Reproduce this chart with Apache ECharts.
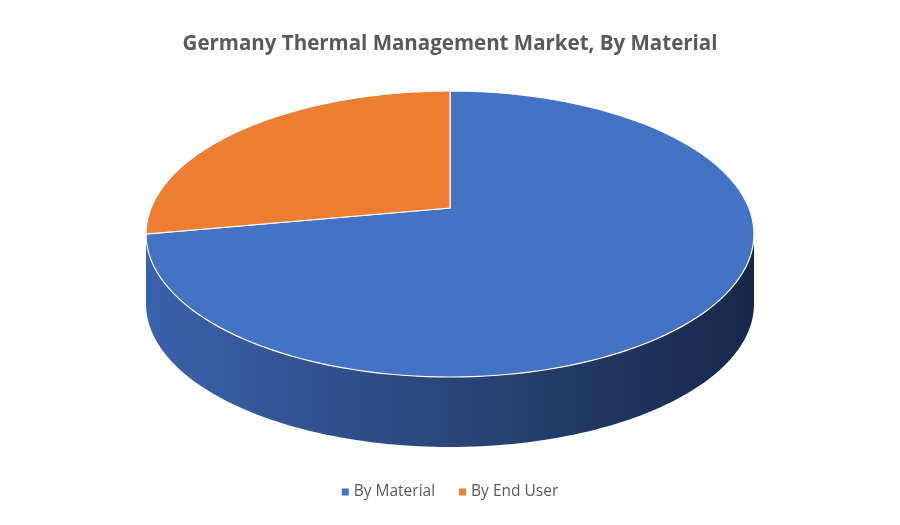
<!DOCTYPE html>
<html><head><meta charset="utf-8">
<script src="https://cdn.jsdelivr.net/npm/echarts@6/dist/echarts.min.js"></script>
<style>html,body{margin:0;padding:0;background:#fff}#c{width:900px;height:525px}</style>
</head><body><div id="c"></div>
<script>
var categories = ['By Material', 'By End User'];
var values = [75, 25];
var colors = ['#4472c4', '#ed7d31'];

var total = values.reduce(function(a,b){return a+b;},0);
var CX=450, CY=234, RX=304, RY=143, DEPTH=70, APEX_Y=208;
function pt(t, dy){ return [CX+RX*Math.sin(t), CY-RY*Math.cos(t)+(dy||0)]; }
function arc(a0,a1,dy){ var p=[],n=120; for(var i=0;i<=n;i++){p.push(pt(a0+(a1-a0)*i/n,dy));} return p; }

function sliceAngles(idx){
  var s=0; for(var i=0;i<idx;i++) s+=values[i];
  return [s/total*2*Math.PI, (s+values[idx])/total*2*Math.PI];
}

function makeSeries(idx){
  return {
    type:'custom', name:categories[idx], coordinateSystem:'none',
    itemStyle:{color:colors[idx]},
    data:[values[idx]],
    renderItem:function(params, api){
      var ang=sliceAngles(idx);
      var children=[];
      var s0=Math.max(ang[0],Math.PI/2), s1=Math.min(ang[1],3*Math.PI/2);
      if(s1>s0){
        var pts=arc(s0,s1,0).concat(arc(s1,s0,DEPTH));
        children.push({type:'polygon',shape:{points:pts},
          style:{fill:new echarts.graphic.LinearGradient(0,0,1,0,[
            {offset:0,color:'#3a62ad'},{offset:0.5,color:'#2a4679'},{offset:1,color:'#17284a'}]),
            stroke:'none'}});
      }
      var top=[[CX,APEX_Y]].concat(arc(ang[0],ang[1],0));
      children.push({type:'polygon',shape:{points:top},
        style:{fill:colors[idx],stroke:'#ffffff',lineWidth:1.2}});
      return {type:'group',children:children};
    }
  };
}

var chart=echarts.init(document.getElementById('c'));
chart.setOption({
  animation:false,
  title:{text:'Germany Thermal Management Market, By Material',left:'center',top:29,
    textStyle:{fontFamily:'Open Sans',fontSize:20.5,fontWeight:'bold',color:'#595959'}},
  legend:{bottom:20,left:'center',icon:'rect',itemWidth:7,itemHeight:7,itemGap:24,
    textStyle:{fontFamily:'Open Sans',fontSize:15.5,color:'#595959'},data:categories},
  series:[makeSeries(0),makeSeries(1)]
});
</script></body></html>
